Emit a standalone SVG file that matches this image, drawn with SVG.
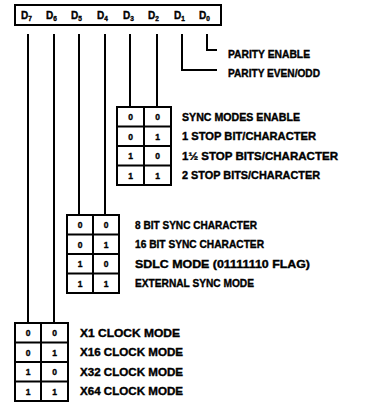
<svg xmlns="http://www.w3.org/2000/svg" width="371" height="417" viewBox="0 0 371 417">
<style>
  .ln { stroke:#000; stroke-width:2; fill:none; }
  .bx { stroke:#000; stroke-width:2; fill:#fff; }
  .lbl { font-family:"Liberation Sans", Arial, sans-serif; font-weight:bold; font-size:10px; fill:#000; stroke:#000; stroke-width:0.35px; }
  .cell { font-family:"Liberation Sans", Arial, sans-serif; font-weight:bold; font-size:8.5px; fill:#000; stroke:#000; stroke-width:0.35px; text-anchor:middle; }
  .hd { font-family:"Liberation Sans", Arial, sans-serif; font-weight:bold; font-size:10px; fill:#000; stroke:#000; stroke-width:0.35px; }
  .sub { font-size:6.5px; }
</style>
<rect width="371" height="417" fill="#fff"/>
<g id="header">
  <rect class="bx" x="15" y="5" width="206" height="20"/>
  <text class="hd" x="21" y="19">D<tspan class="sub" dy="2">7</tspan></text>
  <text class="hd" x="46" y="19">D<tspan class="sub" dy="2">6</tspan></text>
  <text class="hd" x="71" y="19">D<tspan class="sub" dy="2">5</tspan></text>
  <text class="hd" x="97" y="19">D<tspan class="sub" dy="2">4</tspan></text>
  <text class="hd" x="123" y="19">D<tspan class="sub" dy="2">3</tspan></text>
  <text class="hd" x="148" y="19">D<tspan class="sub" dy="2">2</tspan></text>
  <text class="hd" x="174" y="19">D<tspan class="sub" dy="2">1</tspan></text>
  <text class="hd" x="199" y="19">D<tspan class="sub" dy="2">0</tspan></text>
</g>
<g id="connectors">
  <path class="ln" d="M28,34 V323"/>
  <path class="ln" d="M54,34 V323"/>
  <path class="ln" d="M79,34 V215"/>
  <path class="ln" d="M105,34 V215"/>
  <path class="ln" d="M130,34 V107"/>
  <path class="ln" d="M157,34 V107"/>
  <path class="ln" d="M182,34 V70 H217"/>
  <path class="ln" d="M207,34 V50 H217"/>
</g>
<g id="parity">
  <text class="lbl" x="228" y="58" textLength="82" lengthAdjust="spacingAndGlyphs">PARITY ENABLE</text>
  <text class="lbl" x="228" y="77" textLength="92" lengthAdjust="spacingAndGlyphs">PARITY EVEN/ODD</text>
</g>
<g id="stop-bits">
  <rect class="bx" x="117" y="107" width="54" height="78"/>
  <path class="ln" d="M144,107 V185 M117,126.5 H171 M117,146 H171 M117,165.5 H171"/>
  <text class="cell" x="130.5" y="120">0</text><text class="cell" x="157.5" y="120">0</text>
  <text class="cell" x="130.5" y="139.5">0</text><text class="cell" x="157.5" y="139.5">1</text>
  <text class="cell" x="130.5" y="159">1</text><text class="cell" x="157.5" y="159">0</text>
  <text class="cell" x="130.5" y="178.5">1</text><text class="cell" x="157.5" y="178.5">1</text>
  <text class="lbl" x="182" y="120.5" textLength="118" lengthAdjust="spacingAndGlyphs">SYNC MODES ENABLE</text>
  <text class="lbl" x="182" y="140" textLength="134" lengthAdjust="spacingAndGlyphs">1 STOP BIT/CHARACTER</text>
  <text class="lbl" x="182" y="159.5" textLength="156" lengthAdjust="spacingAndGlyphs">1½ STOP BITS/CHARACTER</text>
  <text class="lbl" x="182" y="179" textLength="138" lengthAdjust="spacingAndGlyphs">2 STOP BITS/CHARACTER</text>
</g>
<g id="sync">
  <rect class="bx" x="67" y="215" width="52" height="78"/>
  <path class="ln" d="M93,215 V293 M67,234.5 H119 M67,254 H119 M67,273.5 H119"/>
  <text class="cell" x="80" y="228">0</text><text class="cell" x="106" y="228">0</text>
  <text class="cell" x="80" y="247.5">0</text><text class="cell" x="106" y="247.5">1</text>
  <text class="cell" x="80" y="267">1</text><text class="cell" x="106" y="267">0</text>
  <text class="cell" x="80" y="286.5">1</text><text class="cell" x="106" y="286.5">1</text>
  <text class="lbl" x="135" y="228.5" textLength="122" lengthAdjust="spacingAndGlyphs">8 BIT SYNC CHARACTER</text>
  <text class="lbl" x="135" y="248" textLength="129" lengthAdjust="spacingAndGlyphs">16 BIT SYNC CHARACTER</text>
  <text class="lbl" x="135" y="267.5" textLength="175" lengthAdjust="spacingAndGlyphs">SDLC MODE (01111110 FLAG)</text>
  <text class="lbl" x="135" y="287" textLength="119" lengthAdjust="spacingAndGlyphs">EXTERNAL SYNC MODE</text>
</g>
<g id="clock">
  <rect class="bx" x="15" y="323" width="53" height="78"/>
  <path class="ln" d="M41,323 V401 M15,342.5 H68 M15,362 H68 M15,381.5 H68"/>
  <text class="cell" x="28" y="336">0</text><text class="cell" x="54.5" y="336">0</text>
  <text class="cell" x="28" y="355.5">0</text><text class="cell" x="54.5" y="355.5">1</text>
  <text class="cell" x="28" y="375">1</text><text class="cell" x="54.5" y="375">0</text>
  <text class="cell" x="28" y="394.5">1</text><text class="cell" x="54.5" y="394.5">1</text>
  <text class="lbl" x="80" y="336.5" textLength="100" lengthAdjust="spacingAndGlyphs">X1 CLOCK MODE</text>
  <text class="lbl" x="80" y="356" textLength="103" lengthAdjust="spacingAndGlyphs">X16 CLOCK MODE</text>
  <text class="lbl" x="80" y="375.5" textLength="103" lengthAdjust="spacingAndGlyphs">X32 CLOCK MODE</text>
  <text class="lbl" x="80" y="395" textLength="103" lengthAdjust="spacingAndGlyphs">X64 CLOCK MODE</text>
</g>
</svg>
